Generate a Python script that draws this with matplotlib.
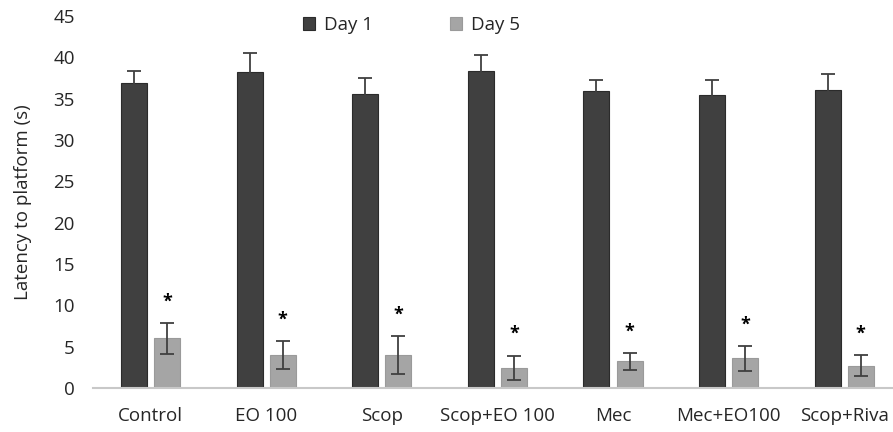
import numpy as np
import matplotlib.pyplot as plt

plt.rcParams['font.family'] = ['Open Sans', 'DejaVu Sans']

groups = ['Control', 'EO 100', 'Scop', 'Scop+EO 100', 'Mec', 'Mec+EO100', 'Scop+Riva']
day1 = [36.9, 38.2, 35.6, 38.4, 35.9, 35.4, 36.1]
day1_err = [1.5, 2.3, 1.9, 1.9, 1.4, 1.9, 1.9]
day5 = [6.0, 4.0, 4.0, 2.4, 3.2, 3.6, 2.7]
day5_err = [1.85, 1.7, 2.3, 1.5, 1.0, 1.5, 1.3]
yticks = [0, 5, 10, 15, 20, 25, 30, 35, 40, 45]

fs = 13.5
fig = plt.figure(figsize=(8.93, 4.32), dpi=100)
ax = fig.add_axes([0.104, 0.102, 0.906, 0.861])

x = np.arange(len(groups))
w = 0.225
off = 0.143
ekw = dict(ecolor='#404040', elinewidth=1.3, capsize=5, capthick=1.3)
ax.bar(x - off, day1, w, yerr=day1_err, color='#404040', edgecolor='#2b2b2b',
       linewidth=0.8, error_kw=ekw, label='Day 1')
ax.bar(x + off, day5, w, yerr=day5_err, color='#a5a5a5', edgecolor='#9a9a9a',
       linewidth=0.8, error_kw=ekw, label='Day 5')

# significance markers above the day 5 bars
for xi, v, e in zip(x, day5, day5_err):
    ax.text(xi + off, v + e + 2.6, '*', ha='center', va='center',
            fontsize=13, fontweight='bold', color='black')

ax.set_xlim(-0.5, len(groups) - 0.5)
ax.set_ylim(0, 45)
ax.set_yticks(yticks)
ax.set_xticks(x)
ax.set_xticklabels(groups)
ax.tick_params(length=0, labelsize=fs, colors='#262626')
ax.tick_params(axis='x', pad=14)
ax.tick_params(axis='y', pad=13)
for s in ['top', 'right', 'left']:
    ax.spines[s].set_visible(False)
ax.spines['bottom'].set_color('#c8c8c8')
ax.spines['bottom'].set_linewidth(1.5)
ax.set_ylabel('Latency to platform (s)', fontsize=fs, color='#262626', labelpad=15)

ax.legend(loc='center', bbox_to_anchor=(0.461, 0.942), bbox_transform=fig.transFigure,
          ncol=2, frameon=False, fontsize=fs, handlelength=0.64, handleheight=0.64,
          columnspacing=4.1, handletextpad=0.48, labelcolor='#262626')

fig.savefig('out.png', dpi=100)
